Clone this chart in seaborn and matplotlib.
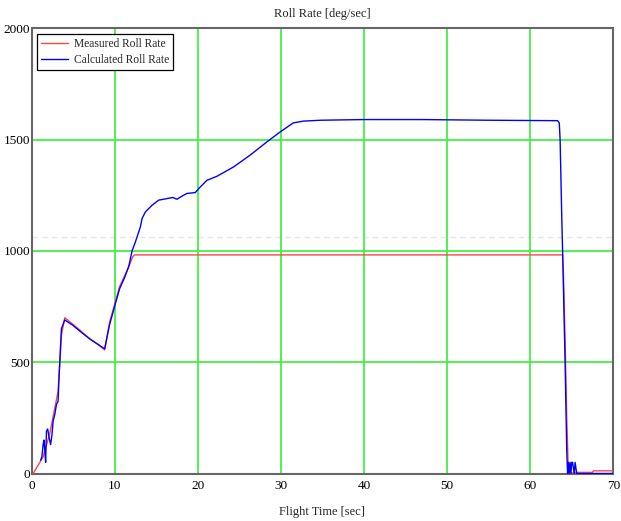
import matplotlib
matplotlib.use("Agg")
import matplotlib.pyplot as plt
import seaborn as sns
import pandas as pd

# ---- data ----
meas_t = [0.2, 1.4, 2.2, 3.2, 3.3, 3.45, 3.6, 4.0, 5.0, 5.8,
          7.0, 8.0, 8.8, 9.4, 10.0, 10.6, 11.6, 12.2, 12.4, 63.9,
          64.0, 64.2, 64.4, 64.6, 65.5, 67.5, 67.6, 70]
meas_v = [0, 75, 180, 370, 440, 520, 620, 700, 670, 645,
          605, 580, 555, 680, 760, 840, 920, 975, 982, 982,
          900, 600, 250, 0, 5, 5, 12, 12]

calc_t = [1.1, 1.25, 1.4, 1.5, 1.6, 1.7, 1.75, 1.8, 1.95, 2.1,
          2.3, 2.45, 2.6, 2.8, 3.0, 3.2, 3.3, 3.45, 3.6, 4.0,
          5.0, 5.8, 7.0, 8.0, 8.8, 9.4, 10.0, 10.6, 11.2, 11.7,
          12.1, 12.5, 13.1, 13.3, 13.7, 14.5, 15.3, 16.3, 17.0, 17.5,
          18.2, 18.7, 19.7, 20.3, 21.1, 22.3, 24.3, 26.3, 28.3, 29.9,
          31.5, 32.7, 34.8, 40, 47, 55, 63.3, 63.5, 63.6, 63.8,
          63.9, 64.2, 64.4, 64.5, 64.6, 64.7, 64.8, 64.9, 65.0, 65.1,
          65.3, 65.4, 65.6, 65.7, 70]
calc_v = [60, 75, 130, 150, 105, 50, 120, 190, 200, 165,
          130, 170, 235, 265, 310, 325, 420, 540, 650, 690,
          665, 640, 605, 580, 560, 670, 750, 830, 880, 930,
          1000, 1040, 1108, 1145, 1175, 1205, 1228, 1235, 1240, 1232,
          1248, 1258, 1262, 1287, 1317, 1335, 1377, 1430, 1489, 1534,
          1575, 1583, 1587, 1590, 1590, 1587, 1585, 1575, 1500, 1150,
          1000, 500, 100, 0, 50, 0, 50, 0, 50, 50,
          0, 50, 0, 0, 0]

x_ticks = [0, 10, 20, 30, 40, 50, 60, 70]
y_ticks = [0, 500, 1000, 1500, 2000]

title = "Roll Rate [deg/sec]"
xlabel = "Flight Time [sec]"
labels = ["Measured Roll Rate", "Calculated Roll Rate"]

# ---- style ----
sns.set_style("white")
plt.rcParams["font.family"] = ["Liberation Serif", "DejaVu Serif"]

W, H = 621, 521
fig = plt.figure(figsize=(W / 100, H / 100), dpi=100)
L, R, T, B = 31.5, 613.3, 28.3, 473.5
ax = fig.add_axes([L / W, 1 - B / H, (R - L) / W, (B - T) / H])

df_m = pd.DataFrame({"t": meas_t, "v": meas_v})
df_c = pd.DataFrame({"t": calc_t, "v": calc_v})

ax.set_xlim(0, 70)
ax.set_ylim(0, 2000)
ax.set_xticks(x_ticks)
ax.set_yticks(y_ticks)

# grid lines (green) drawn below data
for xv in x_ticks[1:-1]:
    ax.axvline(xv, color="#44f044", lw=1.3, zorder=1)
for yv in y_ticks[1:-1]:
    ax.axhline(yv, color="#44f044", lw=1.3, zorder=1)
ax.axhline(1062, color="#e6e6e6", lw=1.0, ls=(0, (4, 3)), zorder=0.5)

sns.lineplot(data=df_m, x="t", y="v", ax=ax, sort=False, estimator=None,
             color="#ff4545", lw=1.0, label=labels[0], zorder=3)
sns.lineplot(data=df_c, x="t", y="v", ax=ax, sort=False, estimator=None,
             color="#0000ff", lw=1.0, label=labels[1], zorder=4)

for s in ax.spines.values():
    s.set_color("#666666")
    s.set_linewidth(1.5)

ax.tick_params(axis="both", length=0, labelsize=9.5, colors="black")
ax.tick_params(axis="x", pad=5)
ax.tick_params(axis="y", pad=1)

ax.set_xlabel(xlabel, fontsize=9, labelpad=10)
ax.set_ylabel("")
ax.set_title(title, fontsize=9, pad=8)

leg = ax.legend(loc="upper left", bbox_to_anchor=(0.009, 0.988), fontsize=8.3,
                frameon=True, fancybox=False, framealpha=1, edgecolor="black",
                borderpad=0.35, labelspacing=0.4, handlelength=2.4,
                handletextpad=0.5, borderaxespad=0.0)
leg.get_frame().set_linewidth(0.9)

fig.savefig("out.png", dpi=100)
